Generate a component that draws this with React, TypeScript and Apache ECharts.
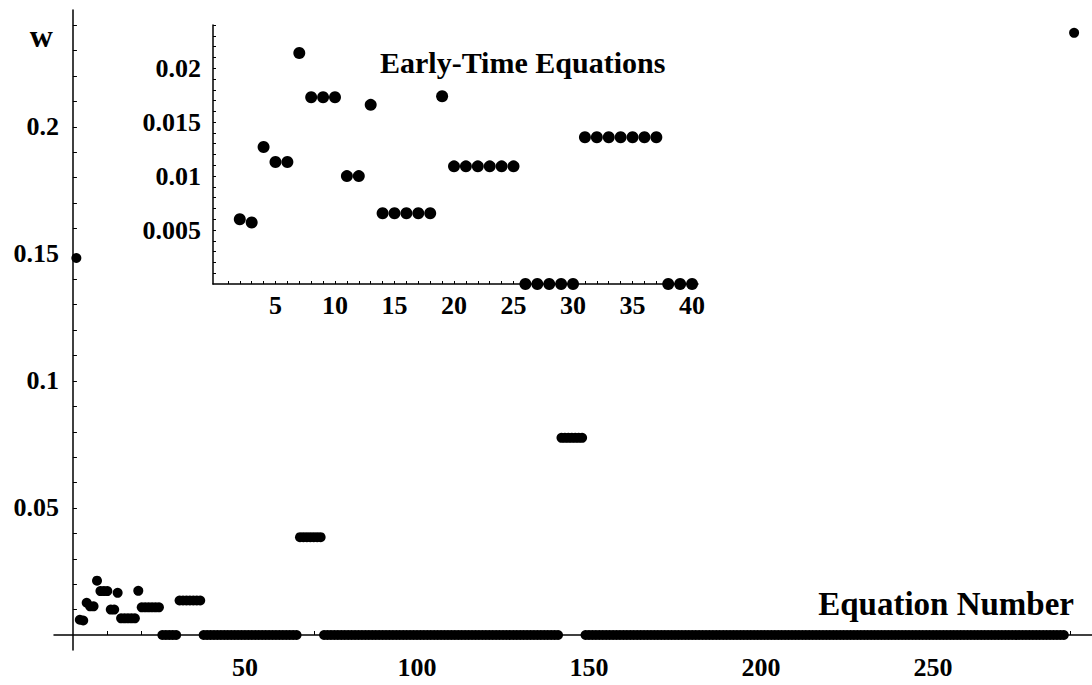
import React, { useEffect, useRef } from "react";
import * as echarts from "echarts";

// ---- data ----
const firstEquation = 1;
const firstEquationW = 0.1484;

const earlyEquationNumbers = [
  2, 3, 4, 5, 6, 7, 8, 9, 10, 11, 12, 13, 14, 15, 16, 17, 18, 19, 20, 21,
  22, 23, 24, 25, 26, 27, 28, 29, 30, 31, 32, 33, 34, 35, 36, 37, 38, 39, 40,
];
const earlyW = [
  0.006, 0.0057, 0.0127, 0.0113, 0.0113, 0.0214, 0.0173, 0.0173, 0.0173,
  0.01, 0.01, 0.0166, 0.00655, 0.00655, 0.00655, 0.00655, 0.00655, 0.0174,
  0.0109, 0.0109, 0.0109, 0.0109, 0.0109, 0.0109, 0, 0, 0, 0, 0, 0.0136,
  0.0136, 0.0136, 0.0136, 0.0136, 0.0136, 0.0136, 0, 0, 0,
];

// later equations: runs of equal w (first equation, last equation, w)
const laterRunStart = [41, 66, 73, 142, 149, 291];
const laterRunEnd = [65, 72, 141, 148, 288, 291];
const laterRunW = [0, 0.0385, 0, 0.0776, 0, 0.237];

// axis ticks / labels
const mainXLabels = [50, 100, 150, 200, 250];
const mainXTicks = [
  10, 20, 30, 40, 50, 60, 70, 80, 90, 100, 110, 120, 130, 140, 150, 160, 170,
  180, 190, 200, 210, 220, 230, 240, 250, 260, 270, 280, 290,
];
const mainYLabels = [0.05, 0.1, 0.15, 0.2];
const mainYTicks = [
  0.01, 0.02, 0.03, 0.04, 0.05, 0.06, 0.07, 0.08, 0.09, 0.1, 0.11, 0.12, 0.13,
  0.14, 0.15, 0.16, 0.17, 0.18, 0.19, 0.2, 0.21, 0.22, 0.23, 0.24,
];
const insetXLabels = [5, 10, 15, 20, 25, 30, 35, 40];
const insetXTicks = [
  1, 2, 3, 4, 5, 6, 7, 8, 9, 10, 11, 12, 13, 14, 15, 16, 17, 18, 19, 20, 21,
  22, 23, 24, 25, 26, 27, 28, 29, 30, 31, 32, 33, 34, 35, 36, 37, 38, 39, 40,
];
const insetYLabels = [0.005, 0.01, 0.015, 0.02];
const insetYTicks = [
  0.001, 0.002, 0.003, 0.004, 0.005, 0.006, 0.007, 0.008, 0.009, 0.01, 0.011,
  0.012, 0.013, 0.014, 0.015, 0.016, 0.017, 0.018, 0.019, 0.02, 0.021, 0.022,
  0.023, 0.024,
];

const FONT = "'Liberation Serif', 'DejaVu Serif', serif";

function buildMainData(): number[][] {
  const pts: number[][] = [[firstEquation, firstEquationW]];
  earlyEquationNumbers.forEach((n, i) => pts.push([n, earlyW[i]]));
  laterRunStart.forEach((s, r) => {
    for (let n = s; n <= laterRunEnd[r]; n++) pts.push([n, laterRunW[r]]);
  });
  return pts;
}

function buildInsetData(): number[][] {
  return earlyEquationNumbers.map((n, i) => [n, earlyW[i]]);
}

const labelStyle = {
  color: "#000",
  fontFamily: FONT,
  fontWeight: "bold" as const,
  fontSize: 26,
};

export default function App() {
  const ref = useRef<HTMLDivElement>(null);
  useEffect(() => {
    if (!ref.current) return;
    const chart = echarts.init(ref.current, undefined, { renderer: "svg" });
    const axisLine = { lineStyle: { color: "#000", width: 1.5 } };
    chart.setOption({
      animation: false,
      backgroundColor: "#fff",
      title: {
        text: "Early-Time Equations",
        left: 375,
        top: 42,
        textStyle: { color: "#000", fontFamily: FONT, fontWeight: "bold", fontSize: 30 },
      },
      grid: [
        { left: 54, right: 0, top: 10, bottom: 35, outerBoundsMode: "none", containLabel: false },
        { left: 213, top: 25, width: 485, height: 259, outerBoundsMode: "none", containLabel: false },
      ],
      xAxis: [
        {
          type: "value",
          gridIndex: 0,
          min: -5.5,
          max: 296.2,
          axisLine: { onZero: true, ...axisLine },
          axisTick: { show: true, inside: true, length: 4, customValues: mainXTicks, lineStyle: { color: "#000" } },
          axisLabel: { ...labelStyle, margin: 4, customValues: mainXLabels, formatter: (v: number) => String(v) },
          splitLine: { show: false },
          name: "Equation Number",
          nameLocation: "end",
          nameGap: -18,
          nameTextStyle: {
            color: "#000",
            fontFamily: FONT,
            fontWeight: "bold",
            fontSize: 33,
            align: "right",
            verticalAlign: "bottom",
            padding: [0, 0, 15, 0],
          },
        },
        {
          type: "value",
          gridIndex: 1,
          min: -0.25,
          max: 40.5,
          axisLine: { onZero: false, ...axisLine },
          axisTick: { show: true, inside: true, length: 3, customValues: insetXTicks, lineStyle: { color: "#000" } },
          axisLabel: { ...labelStyle, margin: 8, customValues: insetXLabels, formatter: (v: number) => String(v) },
          splitLine: { show: false },
        },
      ],
      yAxis: [
        {
          type: "value",
          gridIndex: 0,
          min: -0.0059,
          max: 0.246,
          axisLine: { onZero: true, ...axisLine },
          axisTick: { show: true, inside: true, length: 4, customValues: mainYTicks, lineStyle: { color: "#000" } },
          axisLabel: { ...labelStyle, margin: -5, customValues: mainYLabels, formatter: (v: number) => String(v) },
          splitLine: { show: false },
          name: "w",
          nameLocation: "end",
          nameGap: -26,
          nameTextStyle: {
            color: "#000",
            fontFamily: FONT,
            fontWeight: "bold",
            fontSize: 32,
            align: "right",
            verticalAlign: "middle",
            padding: [0, 20, 0, 0],
          },
        },
        {
          type: "value",
          gridIndex: 1,
          min: 0,
          max: 0.024,
          axisLine: { onZero: false, ...axisLine },
          axisTick: { show: true, inside: true, length: 3, customValues: insetYTicks, lineStyle: { color: "#000" } },
          axisLabel: { ...labelStyle, margin: 12, customValues: insetYLabels, formatter: (v: number) => String(v) },
          splitLine: { show: false },
        },
      ],
      series: [
        {
          name: "w",
          type: "scatter",
          xAxisIndex: 0,
          yAxisIndex: 0,
          symbol: "circle",
          symbolSize: 10,
          itemStyle: { color: "#000", opacity: 1 },
          data: buildMainData(),
        },
        {
          name: "Early-Time Equations",
          type: "scatter",
          xAxisIndex: 1,
          yAxisIndex: 1,
          symbol: "circle",
          symbolSize: 12,
          itemStyle: { color: "#000", opacity: 1 },
          data: buildInsetData(),
        },
      ],
    });
    return () => chart.dispose();
  }, []);
  return (
    <div
      ref={ref}
      style={{ position: "absolute", left: 0, top: 0, width: 1092, height: 685, background: "#fff" }}
    />
  );
}
